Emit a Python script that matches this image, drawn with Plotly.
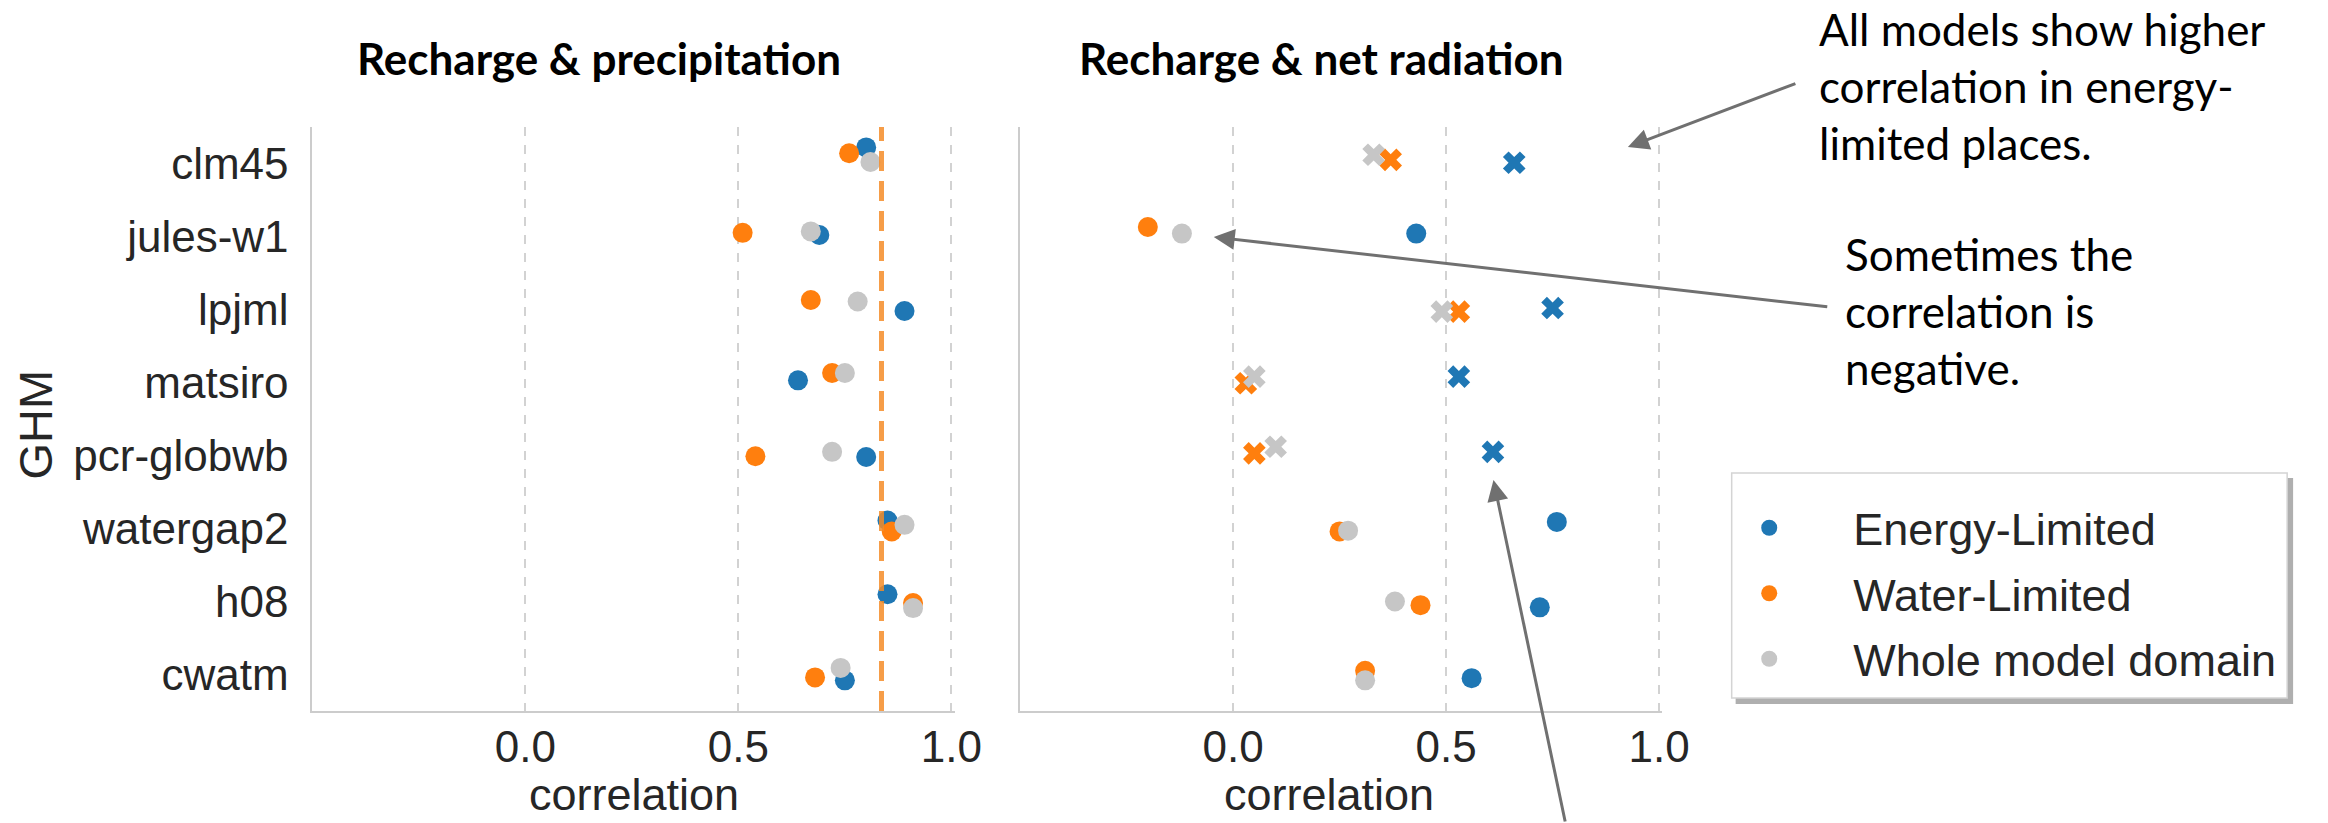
import plotly.graph_objects as go

# ---------------------------------------------------------------- data
models = ["clm45", "jules-w1", "lpjml", "matsiro", "pcr-globwb",
          "watergap2", "h08", "cwatm"]
series_names = ["Energy-Limited", "Water-Limited", "Whole model domain"]

# correlation between recharge and precipitation
precip_energy = [0.80, 0.69, 0.89, 0.64, 0.80, 0.85, 0.85, 0.75]
precip_water = [0.76, 0.51, 0.67, 0.72, 0.54, 0.86, 0.91, 0.68]
precip_whole = [0.81, 0.67, 0.78, 0.75, 0.72, 0.89, 0.91, 0.74]
precip_reference = 0.836

# correlation between recharge and net radiation
netrad_energy = [0.66, 0.43, 0.75, 0.53, 0.61, 0.76, 0.72, 0.56]
netrad_water = [0.37, -0.20, 0.53, 0.03, 0.05, 0.25, 0.44, 0.31]
netrad_whole = [0.33, -0.12, 0.49, 0.05, 0.10, 0.27, 0.38, 0.31]
# models drawn with a cross marker in the net-radiation panel
netrad_crossed = [True, False, True, True, True, False, False, False]

# ---------------------------------------------------------------- styling
W, H = 2328, 823
colors = ["#1f77b4", "#ff7f0e", "#c6c6c6"]
TXT = "#262626"
ARIAL = "Liberation Sans, Arial, sans-serif"
CALIBRI = "Lato, Carlito, sans-serif"

# stripplot jitter (category units) for each panel/series
jitter_precip = [
    [-0.22, -0.02, 0.02, -0.03, 0.02, -0.11, -0.10, 0.08],
    [-0.14, -0.05, -0.13, -0.13, 0.01, 0.04, 0.02, 0.04],
    [-0.02, -0.07, -0.11, -0.13, -0.05, -0.05, 0.09, -0.09],
]
jitter_netrad = [
    [-0.01, -0.04, -0.02, -0.08, -0.05, -0.09, 0.08, 0.05],
    [-0.05, -0.13, 0.03, 0.01, -0.03, 0.04, 0.05, -0.05],
    [-0.12, -0.04, 0.03, -0.08, -0.12, 0.03, 0.00, 0.08],
]


def px(x):
    return x / W


def py(y):
    return 1 - y / H


fig = go.Figure()

precip = [precip_energy, precip_water, precip_whole]
netrad = [netrad_energy, netrad_water, netrad_whole]
netrad_symbols = ["x" if c else "circle" for c in netrad_crossed]

for k, name in enumerate(series_names):
    fig.add_trace(go.Scatter(
        x=precip[k],
        y=[i + j for i, j in zip(range(len(models)), jitter_precip[k])],
        mode="markers", name=name, legendgroup=name,
        marker=dict(color=colors[k], size=20, symbol="circle", line=dict(width=0)),
        xaxis="x", yaxis="y",
    ))
for k, name in enumerate(series_names):
    fig.add_trace(go.Scatter(
        x=netrad[k],
        y=[i + j for i, j in zip(range(len(models)), jitter_netrad[k])],
        mode="markers", name=name, legendgroup=name, showlegend=False,
        marker=dict(color=colors[k], size=20, symbol=netrad_symbols, line=dict(width=0)),
        xaxis="x2", yaxis="y2",
    ))

xaxis_common = dict(
    range=[-0.5, 1.008], tickvals=[0.0, 0.5, 1.0], ticktext=["0.0", "0.5", "1.0"],
    showgrid=True, gridcolor="#d2d2d2", gridwidth=1.5, griddash="dash",
    zeroline=False, showline=True, linecolor="#cccccc", linewidth=2,
    ticks="", ticklabelstandoff=-4,
    tickfont=dict(family=ARIAL, size=44, color=TXT),
)
yaxis_common = dict(
    range=[7.5, -0.5], tickvals=list(range(len(models))), ticktext=models,
    showgrid=False, zeroline=False, showline=True, linecolor="#cccccc", linewidth=2,
    ticks="", ticklabelstandoff=13,
    tickfont=dict(family=ARIAL, size=44, color=TXT),
    domain=[py(711), py(127)],
)

fig.update_layout(
    width=W, height=H,
    margin=dict(l=0, r=0, t=0, b=0),
    paper_bgcolor="white", plot_bgcolor="white",
    xaxis=dict(domain=[px(316), px(966)], anchor="y", **xaxis_common),
    xaxis2=dict(domain=[px(1032), px(1682)], anchor="y2", **xaxis_common),
    yaxis=dict(anchor="x", **yaxis_common),
    yaxis2=dict(anchor="x2", showticklabels=False, **yaxis_common),
    showlegend=True,
    legend=dict(
        x=px(1705), y=py(492), xanchor="left", yanchor="top",
        bgcolor="rgba(0,0,0,0)", borderwidth=0,
        font=dict(family=ARIAL, size=45, color=TXT),
        itemwidth=158, tracegroupgap=4, itemclick=False,
    ),
)

# reference line in the precipitation panel
fig.add_shape(type="line", xref="x", yref="y domain",
              x0=precip_reference, x1=precip_reference, y0=0, y1=1,
              line=dict(color="rgba(245,140,40,0.85)", width=5, dash="20px,10px"))

# legend frame with a soft drop shadow
fig.add_shape(type="rect", xref="paper", yref="paper", layer="above",
              x0=px(1756), x1=px(2320), y0=py(704), y1=py(478),
              line=dict(width=0), fillcolor="rgba(110,110,110,0.55)")
fig.add_shape(type="rect", xref="paper", yref="paper", layer="above",
              x0=px(1752), x1=px(2314), y0=py(698), y1=py(473),
              line=dict(width=1.5, color="#d4d4d4"), fillcolor="white")

# panel titles
fig.add_annotation(text="<b>Recharge &amp; precipitation</b>", x=px(606), y=py(58),
                   xref="paper", yref="paper", xanchor="center", yanchor="middle",
                   showarrow=False, font=dict(family=CALIBRI, size=44, color="black"))
fig.add_annotation(text="<b>Recharge &amp; net radiation</b>", x=px(1337), y=py(58),
                   xref="paper", yref="paper", xanchor="center", yanchor="middle",
                   showarrow=False, font=dict(family=CALIBRI, size=44, color="black"))

# axis titles
for cx in (641, 1345):
    fig.add_annotation(text="correlation", x=px(cx), y=py(822), xref="paper", yref="paper",
                       xanchor="center", yanchor="bottom", showarrow=False,
                       font=dict(family=ARIAL, size=45, color=TXT))
fig.add_annotation(text="GHM", x=px(35), y=py(425), xref="paper", yref="paper",
                   xanchor="center", yanchor="middle", textangle=-90, showarrow=False,
                   font=dict(family=ARIAL, size=47, color=TXT))

# call-out notes
fig.add_annotation(text="All models show higher<br>correlation in energy-<br>limited places.",
                   x=px(1838), y=py(86), xref="paper", yref="paper",
                   xanchor="left", yanchor="middle", align="left", showarrow=False,
                   font=dict(family=CALIBRI, size=44, color="black"))
fig.add_annotation(text="Sometimes the<br>correlation is<br>negative.",
                   x=px(1865), y=py(311), xref="paper", yref="paper",
                   xanchor="left", yanchor="middle", align="left", showarrow=False,
                   font=dict(family=CALIBRI, size=44, color="black"))

# pointer arrows (head, tail) in pixels
arrows = [((1647, 147), (1816, 83)),
          ((1228, 237), (1843, 307)),
          ((1511, 480), (1583, 823))]
for (hx, hy), (tx, ty) in arrows:
    fig.add_annotation(text="", x=px(hx), y=py(hy), xref="paper", yref="paper",
                       ax=tx - hx, ay=ty - hy, axref="pixel", ayref="pixel",
                       showarrow=True, arrowhead=2, arrowsize=1.4, arrowwidth=3,
                       arrowcolor="#707070", standoff=0, startstandoff=0)

fig.write_html("out.html")
